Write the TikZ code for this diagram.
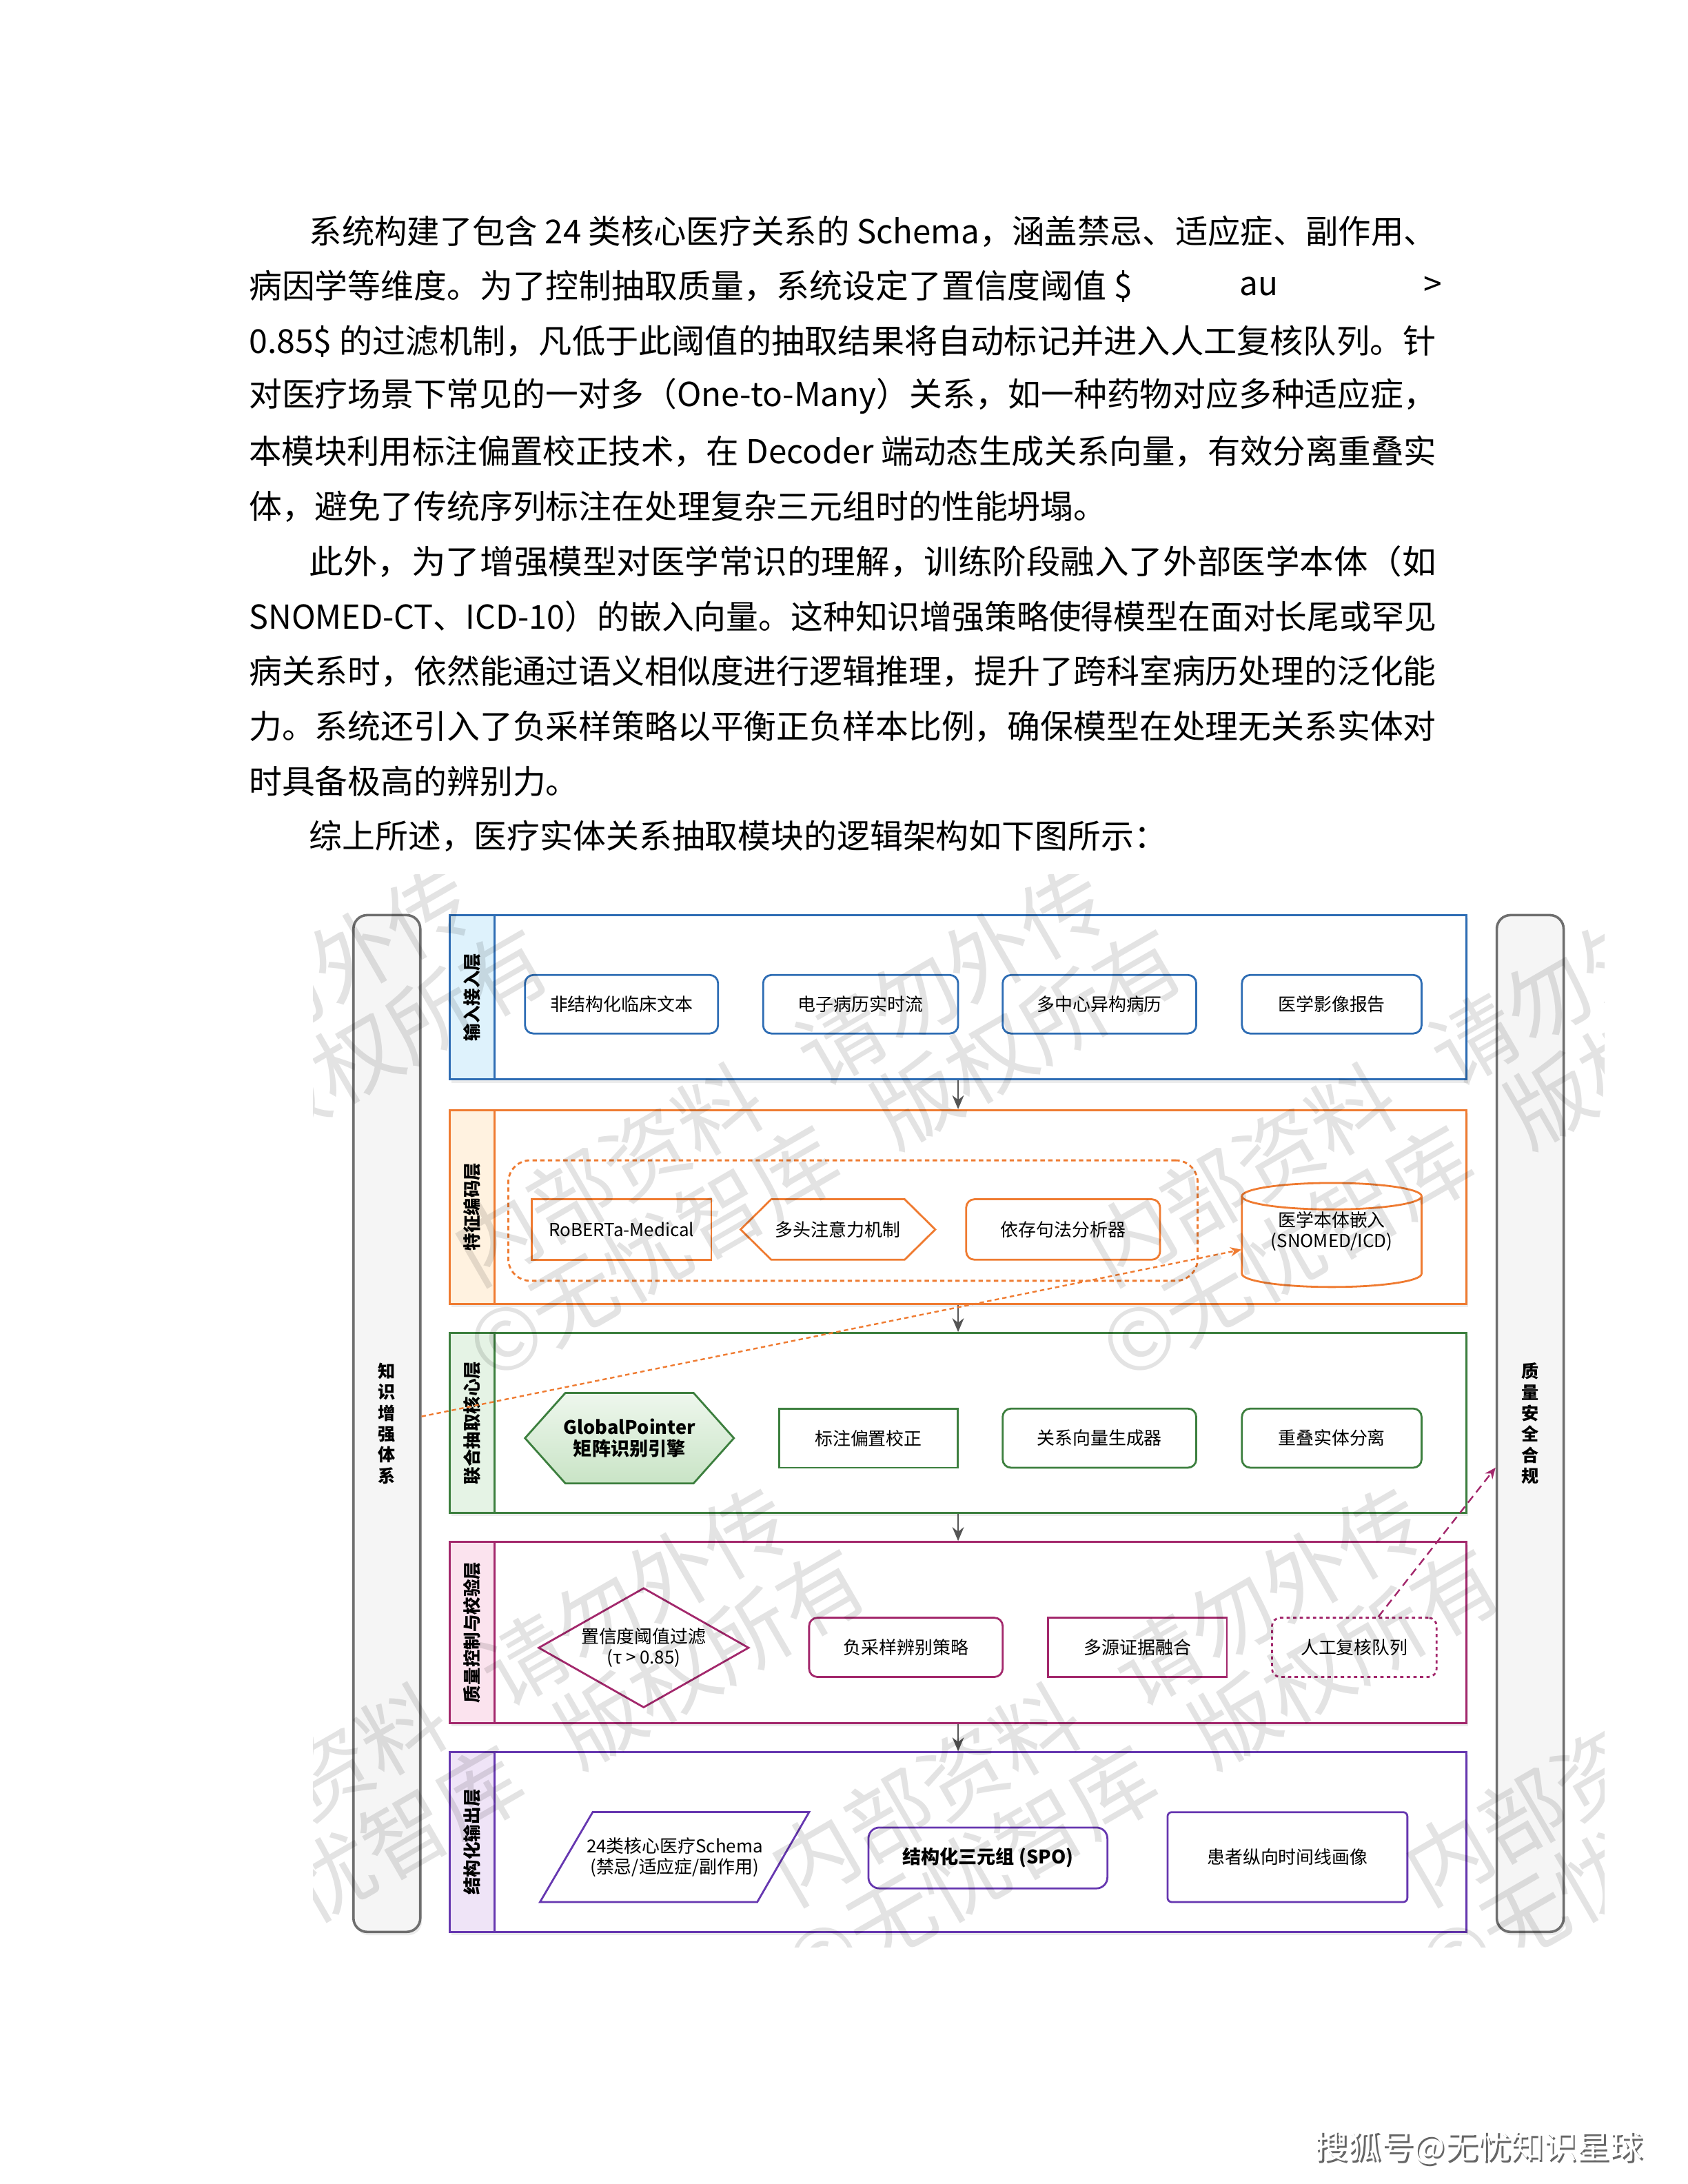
\documentclass[tikz,border=0pt]{standalone}
\usepackage{graphicx}
\usepackage{fontspec}
\setmainfont{Noto Sans CJK SC}
\usetikzlibrary{arrows.meta,positioning,shadows,shapes.geometric}
\newlength{\pxu}
\setlength{\pxu}{0.017813cm}
\definecolor{c_blue}{HTML}{2E6DB4}
\definecolor{c_blue_fill}{HTML}{DEF2FC}
\definecolor{c_orange}{HTML}{EF7B31}
\definecolor{c_orange_fill}{HTML}{FFF2E0}
\definecolor{c_green}{HTML}{3C7F3E}
\definecolor{c_green_fill}{HTML}{E5F3E5}
\definecolor{c_gp_top}{HTML}{EEF7ED}
\definecolor{c_gp_bot}{HTML}{C9E4C6}
\definecolor{c_mag}{HTML}{A3286C}
\definecolor{c_mag_fill}{HTML}{FBE3EE}
\definecolor{c_purple}{HTML}{6637B0}
\definecolor{c_purple_fill}{HTML}{EFE4F7}
\definecolor{c_side}{HTML}{F5F5F5}
\definecolor{c_side_line}{HTML}{6E6E6E}
\definecolor{c_arrow}{HTML}{555555}

\begin{document}
\begin{tikzpicture}[x=\pxu, y=-\pxu,
      body_line/.style={
         inner sep=0pt,
         font=\fontsize{12pt}{14pt}\selectfont},
      layer_box/.style={
         draw=#1,
         line width=0.7pt,
         fill=white,
         inner sep=0pt,
         minimum width=730\pxu,
         drop shadow={shadow xshift=0.6pt, shadow yshift=-1.2pt, opacity=0.15}},
      band_box/.style 2 args={
         draw=#1,
         fill=#2,
         line width=0.7pt,
         inner sep=0pt,
         rotate=90,
         minimum height=32\pxu,
         font=\fontsize{6.4pt}{7pt}\selectfont\bfseries},
      item_box/.style={
         draw=#1,
         line width=0.7pt,
         fill=white,
         inner sep=0pt,
         align=center,
         font=\fontsize{6.5pt}{7.6pt}\selectfont},
      item_text/.style={
         inner sep=0pt,
         align=center,
         font=\fontsize{6.5pt}{7.6pt}\selectfont},
      side_bar/.style={
         draw=c_side_line,
         fill=c_side,
         line width=0.9pt,
         rounded corners=5pt,
         minimum width=48\pxu,
         minimum height=730\pxu,
         inner sep=0pt,
         align=center,
         font=\fontsize{6.3pt}{7.6pt}\selectfont\bfseries,
         drop shadow={shadow xshift=0.6pt, shadow yshift=-1.2pt, opacity=0.15}},
      arrow_gray/.style={
         -{Stealth[length=5pt,width=4.2pt]},
         draw=c_arrow,
         line width=0.7pt},
      arrow_orange/.style={
         -{Stealth[length=4pt,width=3.4pt]},
         draw=c_orange,
         line width=0.6pt,
         dash pattern=on 1.6pt off 1.2pt},
      arrow_mag/.style={
         -{Stealth[length=4pt,width=3.4pt]},
         draw=c_mag,
         line width=0.6pt,
         dash pattern=on 3pt off 1.8pt},
      mark_text/.style={
         rotate=30,
         text=black,
         text opacity=0.11,
         align=center,
         font=\fontsize{31pt}{33pt}\selectfont}
]
\useasboundingbox (0,0) rectangle (1212,1568);
\fill[white] (0,0) rectangle (1212,1568);

% body text, justified lines
\foreach \k/\xs/\yy/\w/\txt in {%
  1/221.7/166/809.3/{系统构建了包含 24 类核心医疗关系的 Schema，涵盖禁忌、适应症、副作用、},
  3/178.4/245/852.6/{0.85\$ 的过滤机制，凡低于此阈值的抽取结果将自动标记并进入人工复核队列。针},
  4/178.4/284.5/852.6/{对医疗场景下常见的一对多（One-to-Many）关系，如一种药物对应多种适应症，},
  5/178.4/324/852.6/{本模块利用标注偏置校正技术，在 Decoder 端动态生成关系向量，有效分离重叠实},
  7/221.7/403/809.3/{此外，为了增强模型对医学常识的理解，训练阶段融入了外部医学本体（如},
  8/178.4/442.5/852.6/{SNOMED-CT、ICD-10）的嵌入向量。这种知识增强策略使得模型在面对长尾或罕见},
  9/178.4/482/852.6/{病关系时，依然能通过语义相似度进行逻辑推理，提升了跨科室病历处理的泛化能},
  10/178.4/521.5/852.6/{力。系统还引入了负采样策略以平衡正负样本比例，确保模型在处理无关系实体对}}
  \node[body_line, anchor=west] (line\k) at (\xs,\yy) {\resizebox{\w\pxu}{\height}{\txt}};

% body text, short lines
\node[body_line, anchor=west] (line2) at (178.4,205.5) {病因学等维度。为了控制抽取质量，系统设定了置信度阈值 \$};
\node[body_line, anchor=west] (line2b) at (890,205.5) {au};
\node[body_line, anchor=west] (line2c) at (1022,205.5) {>};
\node[body_line, anchor=west] (line6) at (178.4,363.5) {体，避免了传统序列标注在处理复杂三元组时的性能坍塌。};
\node[body_line, anchor=west] (line11) at (178.4,561) {时具备极高的辨别力。};
\node[body_line, anchor=west] (line12) at (221.7,600.5) {综上所述，医疗实体关系抽取模块的逻辑架构如下图所示：};

% side bars
\node[side_bar] (kb) at (277.8,1022) {知\\识\\增\\强\\体\\系};
\node[side_bar] (qs) at (1098.8,1022) {质\\量\\安\\全\\合\\规};

% input layer
\node[layer_box=c_blue, minimum height=118\pxu] (lay1) at (688,716) {};
\node[band_box={c_blue}{c_blue_fill}, minimum width=118\pxu] (band1) at (339,716) {输入接入层};
\foreach \nm/\cx/\w/\txt in {%
  src_text/446.3/138.6/非结构化临床文本,
  src_stream/618/140/电子病历实时流,
  src_multi/789.5/139/多中心异构病历,
  src_image/956.3/129/医学影像报告}
  \node[item_box=c_blue, rounded corners=3pt, minimum width=\w\pxu, minimum height=42\pxu] (\nm) at (\cx,721) {\txt};

% encoding layer
\node[layer_box=c_orange, minimum height=139\pxu] (lay2) at (688,866.5) {};
\node[band_box={c_orange}{c_orange_fill}, minimum width=139\pxu] (band2) at (339,866.5) {特征编码层};
\node[draw=c_orange, line width=0.7pt, dash pattern=on 1.6pt off 1.2pt, rounded corners=8pt,
      minimum width=495\pxu, minimum height=86.5\pxu, inner sep=0pt] (enc_group) at (612.5,876.3) {};
\node[item_box=c_orange, minimum width=129\pxu, minimum height=43.4\pxu] (roberta) at (446.3,882.7) {RoBERTa-Medical};
\draw[c_orange, line width=0.7pt, fill=white] (531.8,882.7) -- (553.8,861) -- (649.6,861)
      -- (671.6,882.7) -- (649.6,904.4) -- (553.8,904.4) -- cycle;
\node[item_text] (mha) at (601.7,882.7) {多头注意力机制};
\node[item_box=c_orange, rounded corners=3pt, minimum width=139.2\pxu, minimum height=43.4\pxu] (dep) at (763.4,882.7) {依存句法分析器};
\draw[c_orange, line width=0.7pt, fill=white] (891.8,858.8) -- (891.8,914.5)
      arc[start angle=180, end angle=0, x radius=64.5, y radius=9.5] -- (1020.8,858.8);
\draw[c_orange, line width=0.7pt] (956.3,858.8) ellipse[x radius=64.5, y radius=9.5];
\node[item_text, minimum width=129\pxu, minimum height=75\pxu] (onto) at (956.3,884) {医学本体嵌入\\(SNOMED/ICD)};

% extraction layer
\node[layer_box=c_green, minimum height=129\pxu] (lay3) at (688,1021.5) {};
\node[band_box={c_green}{c_green_fill}, minimum width=129\pxu] (band3) at (339,1021.5) {联合抽取核心层};
\draw[c_green, line width=0.7pt, top color=c_gp_top, bottom color=c_gp_bot] (377,1032.5) -- (406,1000)
      -- (498,1000) -- (527,1032.5) -- (498,1065) -- (406,1065) -- cycle;
\node[item_text, font=\fontsize{6.8pt}{8pt}\selectfont\bfseries] (gp) at (452,1032.5) {GlobalPointer\\矩阵识别引擎};
\node[item_box=c_green, minimum width=128.4\pxu, minimum height=42.4\pxu] (bias) at (623.6,1032.5) {标注偏置校正};
\node[item_box=c_green, rounded corners=3pt, minimum width=139\pxu, minimum height=42.4\pxu] (relvec) at (789.5,1032.5) {关系向量生成器};
\node[item_box=c_green, rounded corners=3pt, minimum width=129\pxu, minimum height=42.4\pxu] (overlap) at (956.3,1032.5) {重叠实体分离};

% quality layer
\node[layer_box=c_mag, minimum height=130\pxu] (lay4) at (688,1172) {};
\node[band_box={c_mag}{c_mag_fill}, minimum width=130\pxu] (band4) at (339,1172) {质量控制与校验层};
\node[item_box=c_mag, diamond, aspect=1.75, minimum width=151.2\pxu, minimum height=86\pxu] (thresh) at (462.2,1183) {置信度阈值过滤\\(τ > 0.85)};
\node[item_box=c_mag, rounded corners=3pt, minimum width=139\pxu, minimum height=42.5\pxu] (negsamp) at (650.5,1182.7) {负采样辨别策略};
\node[item_box=c_mag, minimum width=128.4\pxu, minimum height=42.5\pxu] (fusion) at (816.8,1182.7) {多源证据融合};
\node[item_box=c_mag, rounded corners=3pt, dash pattern=on 1.2pt off 1.2pt, minimum width=118.2\pxu, minimum height=42.5\pxu] (review) at (972.5,1182.7) {人工复核队列};

% output layer
\node[layer_box=c_purple, minimum height=129\pxu] (lay5) at (688,1322.5) {};
\node[band_box={c_purple}{c_purple_fill}, minimum width=129\pxu] (band5) at (339,1322.5) {结构化输出层};
\draw[c_purple, line width=0.7pt, fill=white] (387.8,1365.5) -- (425.6,1301) -- (581,1301) -- (543.8,1365.5) -- cycle;
\node[item_text] (schema) at (484.5,1333.3) {24类核心医疗Schema\\(禁忌/适应症/副作用)};
\node[item_box=c_purple, rounded corners=4pt, font=\fontsize{6.8pt}{8pt}\selectfont\bfseries, minimum width=171.6\pxu, minimum height=43.7\pxu] (spo) at (709.4,1333.9) {结构化三元组 (SPO)};
\node[item_box=c_purple, rounded corners=1.5pt, minimum width=172.2\pxu, minimum height=64.5\pxu] (profile) at (924.5,1333.3) {患者纵向时间线画像};

% connectors
\foreach \i/\j in {lay1/lay2, lay2/lay3, lay3/lay4, lay4/lay5}
  \draw[arrow_gray] (\i) -- (\j);
\draw[arrow_orange] (kb) -- (onto);
\draw[arrow_mag] (review) -- (qs);

% watermark
\begin{scope}
  \clip (225,628) rectangle (1152,1398);
  \foreach \cx/\cy [count=\n] in {121/800, 576/800, 1031/800, 349/1245, 804/1245, 1259/1245}
    \node[mark_text] (mark\n) at (\cx,\cy) {内部资料\hspace{0.65em}请勿外传\\©无忧智库\hspace{0.65em}版权所有};
\end{scope}

% footer
\node[text=black!60, font=\fontsize{12pt}{14pt}\selectfont] (sohu_shade) at (1063.3,1543.3) {搜狐号@无忧知识星球};
\node[text=white, font=\fontsize{12pt}{14pt}\selectfont] (sohu) at (1062,1542) {搜狐号@无忧知识星球};
\end{tikzpicture}
\end{document}
